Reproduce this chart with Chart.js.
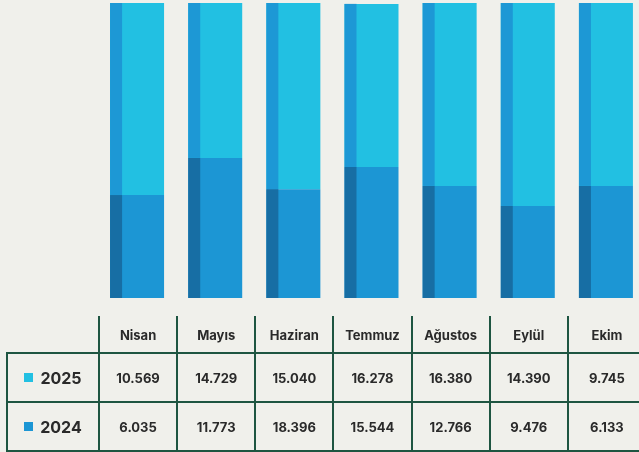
<!DOCTYPE html>
<html lang="tr">
<head>
<meta charset="utf-8">
<title>Aylık Ziyaretçi 2024 – 2025</title>
<script src="https://cdn.jsdelivr.net/npm/chart.js@4/dist/chart.umd.min.js"></script>
<style>
  html, body { margin: 0; padding: 0; }
  body {
    width: 639px; height: 452px; overflow: hidden; position: relative;
    background: #f0f0eb;
    font-family: "Inter", "Open Sans", "DejaVu Sans", sans-serif;
    color: #2a2a2a;
  }
  #chartBox { position: absolute; left: 0; top: 0; width: 660px; height: 298px; }
  #table { position: absolute; left: 0; top: 0; width: 660px; height: 452px; }
  .line { position: absolute; background: #1e5541; }
  .cell {
    position: absolute; display: flex; align-items: center; justify-content: center;
    font-weight: 700; font-size: 13px; white-space: nowrap;
  }
  .year { font-size: 16px; font-weight: 700; }
  .swatch { display: inline-block; width: 9px; height: 9px; margin-right: 7px; }
</style>
</head>
<body>
<div id="chartBox"><canvas id="chart"></canvas></div>
<div id="table"></div>
<script>
// Months and yearly visitor counts shown in the table
const months = ['Nisan', 'Mayıs', 'Haziran', 'Temmuz', 'Ağustos', 'Eylül', 'Ekim'];
const visitors2025 = [10569, 14729, 15040, 16278, 16380, 14390, 9745];
const visitors2024 = [6035, 11773, 18396, 15544, 12766, 9476, 6133];

// Column split of each bar (percent of the full column)
const barLower = [34.9, 47.5, 36.9, 44.4, 38.0, 31.2, 38.0];
const barUpper = [65.1, 52.5, 63.1, 55.3, 62.0, 68.8, 62.0];

const seriesNames = ['2025', '2024'];
const colorUpper = '#22c0e2', colorUpperEdge = '#1d98d5';
const colorLower = '#1c96d4', colorLowerEdge = '#176ea4';

// Darker strip on the left side of every bar segment
const edgeStrip = {
  id: 'edgeStrip',
  afterDatasetsDraw(chart) {
    const ctx = chart.ctx;
    chart.data.datasets.forEach((ds, i) => {
      const meta = chart.getDatasetMeta(i);
      meta.data.forEach(bar => {
        const p = bar.getProps(['x', 'y', 'base', 'width'], true);
        const top = Math.min(p.y, p.base), h = Math.abs(p.base - p.y);
        ctx.save();
        ctx.fillStyle = ds.edgeColor;
        ctx.fillRect(p.x - p.width / 2, top, p.width * 12 / 54, h);
        ctx.restore();
      });
    });
  }
};

const chart = new Chart(document.getElementById('chart'), {
  type: 'bar',
  data: {
    labels: months,
    datasets: [
      { label: seriesNames[1], data: barLower, backgroundColor: colorLower, edgeColor: colorLowerEdge },
      { label: seriesNames[0], data: barUpper, backgroundColor: colorUpper, edgeColor: colorUpperEdge }
    ]
  },
  options: {
    responsive: true,
    maintainAspectRatio: false,
    animation: false,
    devicePixelRatio: 1,
    layout: { padding: { left: 98, right: 15, top: 3, bottom: 0 } },
    datasets: { bar: { categoryPercentage: 1, barPercentage: 0.691, borderWidth: 0 } },
    plugins: { legend: { display: false }, tooltip: { enabled: false } },
    scales: {
      x: { stacked: true, display: false },
      y: { stacked: true, display: false, min: 0, max: 100 }
    }
  },
  plugins: [edgeStrip]
});

// Data table under the bars, columns aligned with the category scale
const fmt = n => String(n).replace(/\B(?=(\d{3})+(?!\d))/g, '.');
const table = document.getElementById('table');
const xs = chart.scales.x;
const colW = (xs.right - xs.left) / months.length;
const firstX = xs.left + 1;
const leftX = 7;
const rowY = [316, 353, 402, 451];

function add(cls, style, html) {
  const d = document.createElement('div');
  d.className = cls;
  Object.assign(d.style, style);
  if (html !== undefined) d.innerHTML = html;
  table.appendChild(d);
  return d;
}

// grid lines
for (let i = 0; i <= months.length; i++) {
  const x = firstX + i * colW;
  add('line', { left: (x - 1) + 'px', top: rowY[0] + 'px', width: '2px', height: (rowY[3] - rowY[0] + 1) + 'px' });
}
add('line', { left: (leftX - 1) + 'px', top: (rowY[1] - 1) + 'px', width: '2px', height: (rowY[3] - rowY[1] + 2) + 'px' });
for (let r = 1; r <= 3; r++) {
  add('line', { left: (leftX - 1) + 'px', top: (rowY[r] - 1) + 'px', width: (firstX + months.length * colW - leftX + 2) + 'px', height: '2px' });
}

// header and value cells
const rows = [visitors2025, visitors2024];
months.forEach((m, i) => {
  const x = firstX + i * colW;
  add('cell', { left: x + 'px', top: rowY[0] + 'px', width: colW + 'px', height: (rowY[1] - rowY[0]) + 'px' }, m);
  rows.forEach((vals, r) => {
    add('cell', { left: x + 'px', top: rowY[r + 1] + 'px', width: colW + 'px', height: (rowY[r + 2] - rowY[r + 1]) + 'px' }, fmt(vals[i]));
  });
});

// series labels with colour keys
[colorUpper, colorLower].forEach((c, r) => {
  add('cell year', { left: leftX + 'px', top: rowY[r + 1] + 'px', width: (firstX - leftX) + 'px', height: (rowY[r + 2] - rowY[r + 1]) + 'px' },
    '<span class="swatch" style="background:' + c + '"></span>' + seriesNames[r]);
});
</script>
</body>
</html>
